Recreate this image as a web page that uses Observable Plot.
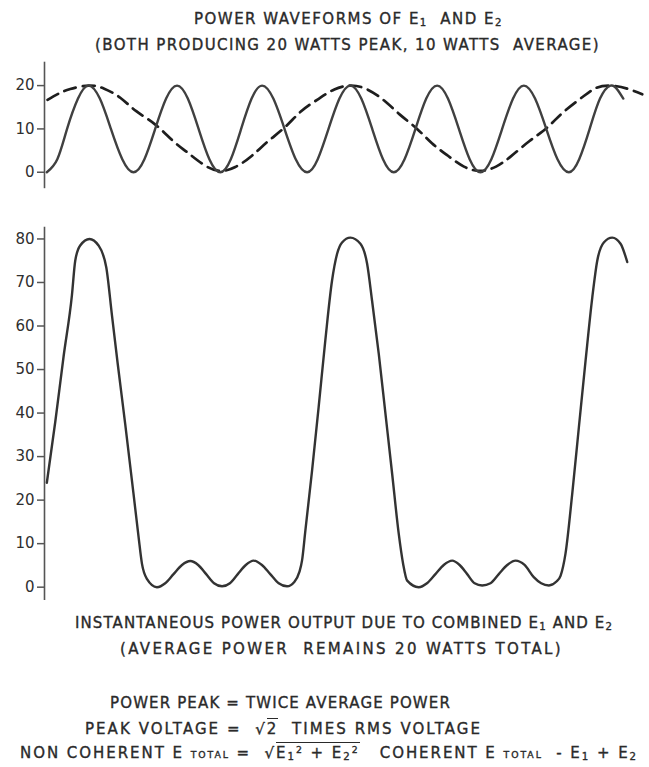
<!DOCTYPE html>
<html><head><meta charset="utf-8">
<script src="https://cdn.jsdelivr.net/npm/d3@7"></script>
<script src="https://cdn.jsdelivr.net/npm/@observablehq/plot@0.6"></script>
<style>
body{margin:0;background:#fff;}
#wrap{position:relative;width:649px;height:767px;overflow:hidden;font-family:"DejaVu Sans",sans-serif;color:#2a2a2a;}
.ln{position:absolute;white-space:nowrap;font-size:15px;line-height:16px;-webkit-text-stroke:0.35px #2a2a2a;}
.s{font-size:0.68em;position:relative;top:0.2em;}
.t{font-size:0.62em;}
.ov{border-top:1.4px solid #2a2a2a;padding-top:1px;}
sup{font-size:0.62em;vertical-align:0.55em;line-height:0;}
.plot{position:absolute;left:0;}
</style></head>
<body>
<div id="wrap"></div>
<script>
// phase (degrees) and instantaneous power (watts)
const e1Deg   = [1.6,8.8,15.5,23,30.2,38,45.6,53.4,61.1,68.6,76,83.5,91,98.4,105.8,113.2,120.7,127.9,135,142.2,149.4,157.1,164.8,172.5,180.3,187.6,195,202.5,210,217.5,225,232.4,239.8,247.2,254.7,262.1,269.6,277,284.5,291.9,299.3,306.8,314.2,321.7,329.1,336.8,344.5,352.2,360,367.1,374.3,381.4,388.6,393.5,397.4];
const e1Watts = [0,3,10,17,20,17,10,3,0,3,10,17,20,17,10,3,0,3,10,17,20,17,10,3,0,3,10,17,20,17,10,3,0,3,10,17,20,17,10,3,0,3,10,17,20,17,10,3,0,3,10,17,20,19,17];

const e2Deg   = [2.1,10,17.7,30.2,41,52,63,76.1,88,98,110,120.7,131,142,153,165.4,176,188,199,210,221,233,244,255.8,266,277,288,299.3,310,320,333,345.1,356,370.3,379,388.6,400,410.4];
const e2Watts = [16.7,18.2,19.2,20,19.3,17.2,14.1,11,7.3,4.6,1.6,0.3,1.2,3.7,7,10.5,14,16.9,19.1,20,19.2,16.6,13.3,10,6.7,3.8,1.3,0.3,1.3,3.6,7.2,10.3,13.8,17.6,19.5,20,19.3,18];

const totDeg   = [1.6,7.4,13.1,18.8,21.1,24.5,30.9,37.1,42.4,46.3,50.2,55.4,61.1,64.6,66.9,70.3,77.2,82.9,88.6,94.4,100.1,105.5,111,116.4,121.9,127.3,132.7,138.2,143.6,149.3,155,160.8,166.5,171.5,175,176.8,179.1,183.7,188.2,192.8,197.4,200.9,204.3,210,216.9,221.5,224.9,229.5,234.1,238.7,243.2,246.2,249,256.9,262.6,268.4,274.1,279.9,285,290.2,295.3,300.5,306.2,311.9,317.7,323.4,329.6,335.9,341,346.3,351.5,354.3,357.7,362.3,366.9,371.5,376.1,379.5,384,389.8,395.5,400.1];
const totWatts = [24,38,53,67,75,78.5,80,78.5,73.5,62.5,51.5,37.5,21.5,11.5,5.4,1.9,0,0.9,3,5.1,6,5.1,3,0.9,0.2,0.9,3,5.1,6.1,5.1,3,0.9,0.2,1.2,3.5,6.1,13,26.8,41.3,56.7,70.4,76.6,79.2,80.3,78.9,74.3,65.8,53.6,39.8,26,12.3,5.4,1.5,0,0.9,3,5.1,6.1,5.1,3,0.9,0.4,0.9,3,5.1,6.1,5.1,2.3,0.9,0.4,1.3,2.6,7.7,21.4,36.8,52.1,66.6,75,79.2,80.3,78.9,74.7];

const topTicks = [0,10,20];
const bottomTicks = [0,10,20,30,40,50,60,70,80];

const e1Data = e1Deg.map((d,i)=>({deg:d, w:e1Watts[i]}));
const e2Data = e2Deg.map((d,i)=>({deg:d, w:e2Watts[i]}));
const totData = totDeg.map((d,i)=>({deg:d, w:totWatts[i]}));

const wrapEl = document.getElementById("wrap");
const commonOpts = {
  width: 649, marginLeft: 44, marginRight: 2,
  x: {domain: [0, 414], axis: null},
  style: {fontFamily: "DejaVu Sans, sans-serif", fontSize: "15px", color: "#2f2f2f", background: "transparent"}
};

const topPlot = Plot.plot({
  ...commonOpts, height: 140, marginTop: 6.7, marginBottom: 6.8,
  y: {domain: [-3.8, 25.4]},
  marks: [
    Plot.ruleX([0], {stroke: "#555", strokeWidth: 1.6}),
    Plot.axisY({ticks: topTicks, label: null, tickSize: 7, tickPadding: 3, fontSize: 15, stroke: "#555", strokeWidth: 1.5, strokeOpacity: 1}),
    Plot.line(e2Data, {x: "deg", y: "w", curve: "natural", stroke: "#1e1e1e", strokeWidth: 2.7, strokeDasharray: "12,7"}),
    Plot.line(e1Data, {x: "deg", y: "w", curve: "natural", stroke: "#404040", strokeWidth: 2.4})
  ]
});
topPlot.classList.add("plot"); topPlot.style.top = "55px";
wrapEl.appendChild(topPlot);

const bottomPlot = Plot.plot({
  ...commonOpts, height: 395, marginTop: 11.7, marginBottom: 10,
  y: {domain: [-3.06, 82.7]},
  marks: [
    Plot.ruleX([0], {stroke: "#555", strokeWidth: 1.6}),
    Plot.axisY({ticks: bottomTicks, label: null, tickSize: 7, tickPadding: 3, fontSize: 15, stroke: "#555", strokeWidth: 1.5, strokeOpacity: 1}),
    Plot.line(totData, {x: "deg", y: "w", curve: "monotone-x", stroke: "#333", strokeWidth: 2.4})
  ]
});
bottomPlot.classList.add("plot"); bottomPlot.style.top = "215px";
wrapEl.appendChild(bottomPlot);

const textLines = [
  {html: 'POWER WAVEFORMS OF E<span class="s">1</span>&nbsp; AND E<span class="s">2</span>', left: 194, cy: 19, w: 309},
  {html: '(BOTH PRODUCING 20 WATTS PEAK, 10 WATTS&nbsp; AVERAGE)', left: 95, cy: 44.5, w: 505},
  {html: 'INSTANTANEOUS POWER OUTPUT DUE TO COMBINED E<span class="s">1</span> AND E<span class="s">2</span>', left: 75, cy: 623, w: 538},
  {html: '(AVERAGE POWER&nbsp; REMAINS 20 WATTS TOTAL)', left: 120, cy: 649, w: 443},
  {html: 'POWER PEAK = TWICE AVERAGE POWER', left: 110, cy: 703, w: 341},
  {html: 'PEAK VOLTAGE = &nbsp;√<span class="ov">2</span>&nbsp; TIMES RMS VOLTAGE', left: 85, cy: 729, w: 397},
  {html: 'NON COHERENT E <span class="t">TOTAL</span> = &nbsp;√<span class="ov">E<span class="s">1</span><sup>2</sup> + E<span class="s">2</span><sup>2</sup></span>&nbsp;&nbsp; COHERENT E <span class="t">TOTAL</span>&nbsp; - E<span class="s">1</span> + E<span class="s">2</span>', left: 20, cy: 753, w: 618}
];
for (const l of textLines) {
  const d = document.createElement("div");
  d.className = "ln";
  d.innerHTML = l.html;
  d.style.left = l.left + "px";
  d.style.top = (l.cy - 7.75) + "px";
  wrapEl.appendChild(d);
  const nat = d.getBoundingClientRect().width;
  const n = d.textContent.length;
  d.style.letterSpacing = ((l.w - nat) / n) + "px";
}
</script>
</body></html>
